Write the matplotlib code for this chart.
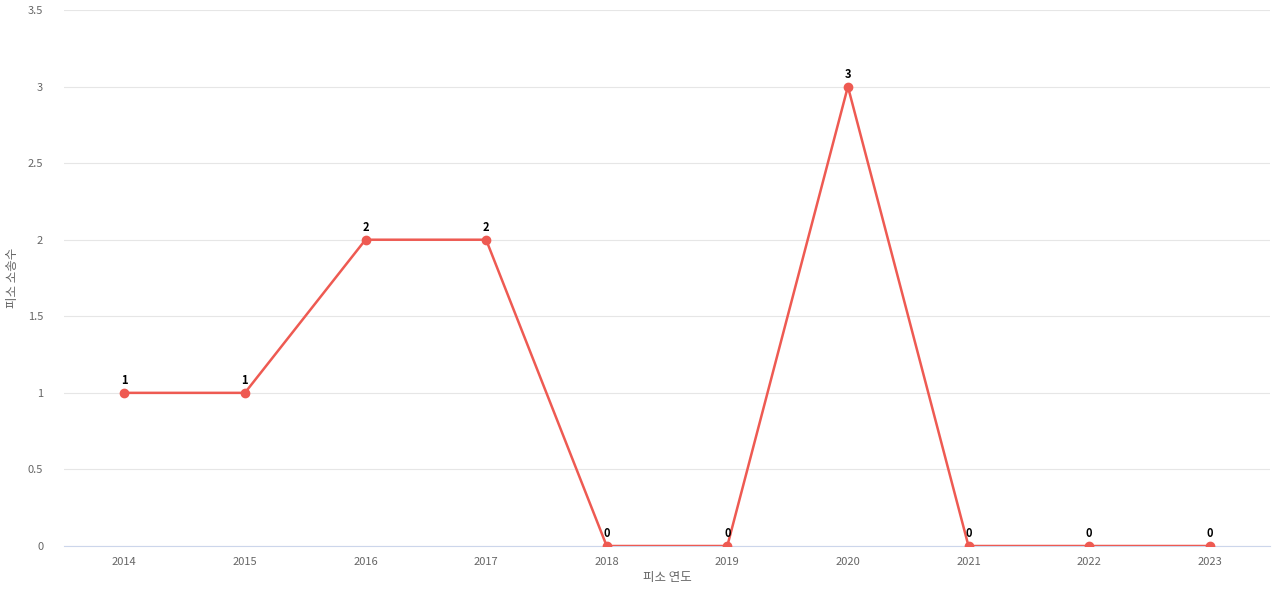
import matplotlib
matplotlib.use("Agg")
import matplotlib.pyplot as plt

plt.rcParams['font.family'] = ['Noto Sans CJK KR', 'DejaVu Sans']

years = ["2014", "2015", "2016", "2017", "2018", "2019", "2020", "2021", "2022", "2023"]
counts = [1, 1, 2, 2, 0, 0, 3, 0, 0, 0]

fig = plt.figure(figsize=(12.8, 6.0), dpi=100)
ax = fig.add_axes([64 / 1280, 54 / 600, 1206 / 1280, 536 / 600])

x = list(range(len(years)))
ax.plot(x, counts, color="#ee5a52", linewidth=1.8, marker="o", markersize=6, zorder=3)
for xi, v in zip(x, counts):
    ax.annotate(str(v), (xi, v), xytext=(0, 4), textcoords="offset points",
                ha="center", va="bottom", fontsize=8, fontweight="bold", color="black")

ax.set_xlim(-0.5, len(years) - 0.5)
ax.set_ylim(0, 3.5)
ax.set_xticks(x)
ax.set_xticklabels(years)
ax.set_yticks([0, 0.5, 1, 1.5, 2, 2.5, 3, 3.5])
ax.set_yticklabels(["0", "0.5", "1", "1.5", "2", "2.5", "3", "3.5"])
ax.tick_params(length=0, labelsize=8, colors="#666666", pad=8)
ax.tick_params(axis="y", pad=15)
ax.grid(axis="y", color="#e6e6e6", linewidth=0.8)
ax.set_axisbelow(True)
for s in ["top", "right", "left"]:
    ax.spines[s].set_visible(False)
ax.spines["bottom"].set_color("#ccd6eb")

ax.set_xlabel("피소 연도", fontsize=9, color="#666666", labelpad=3)
ax.set_ylabel("피소 소송수", fontsize=9, color="#666666", labelpad=6)

fig.savefig("out.png", dpi=100)
